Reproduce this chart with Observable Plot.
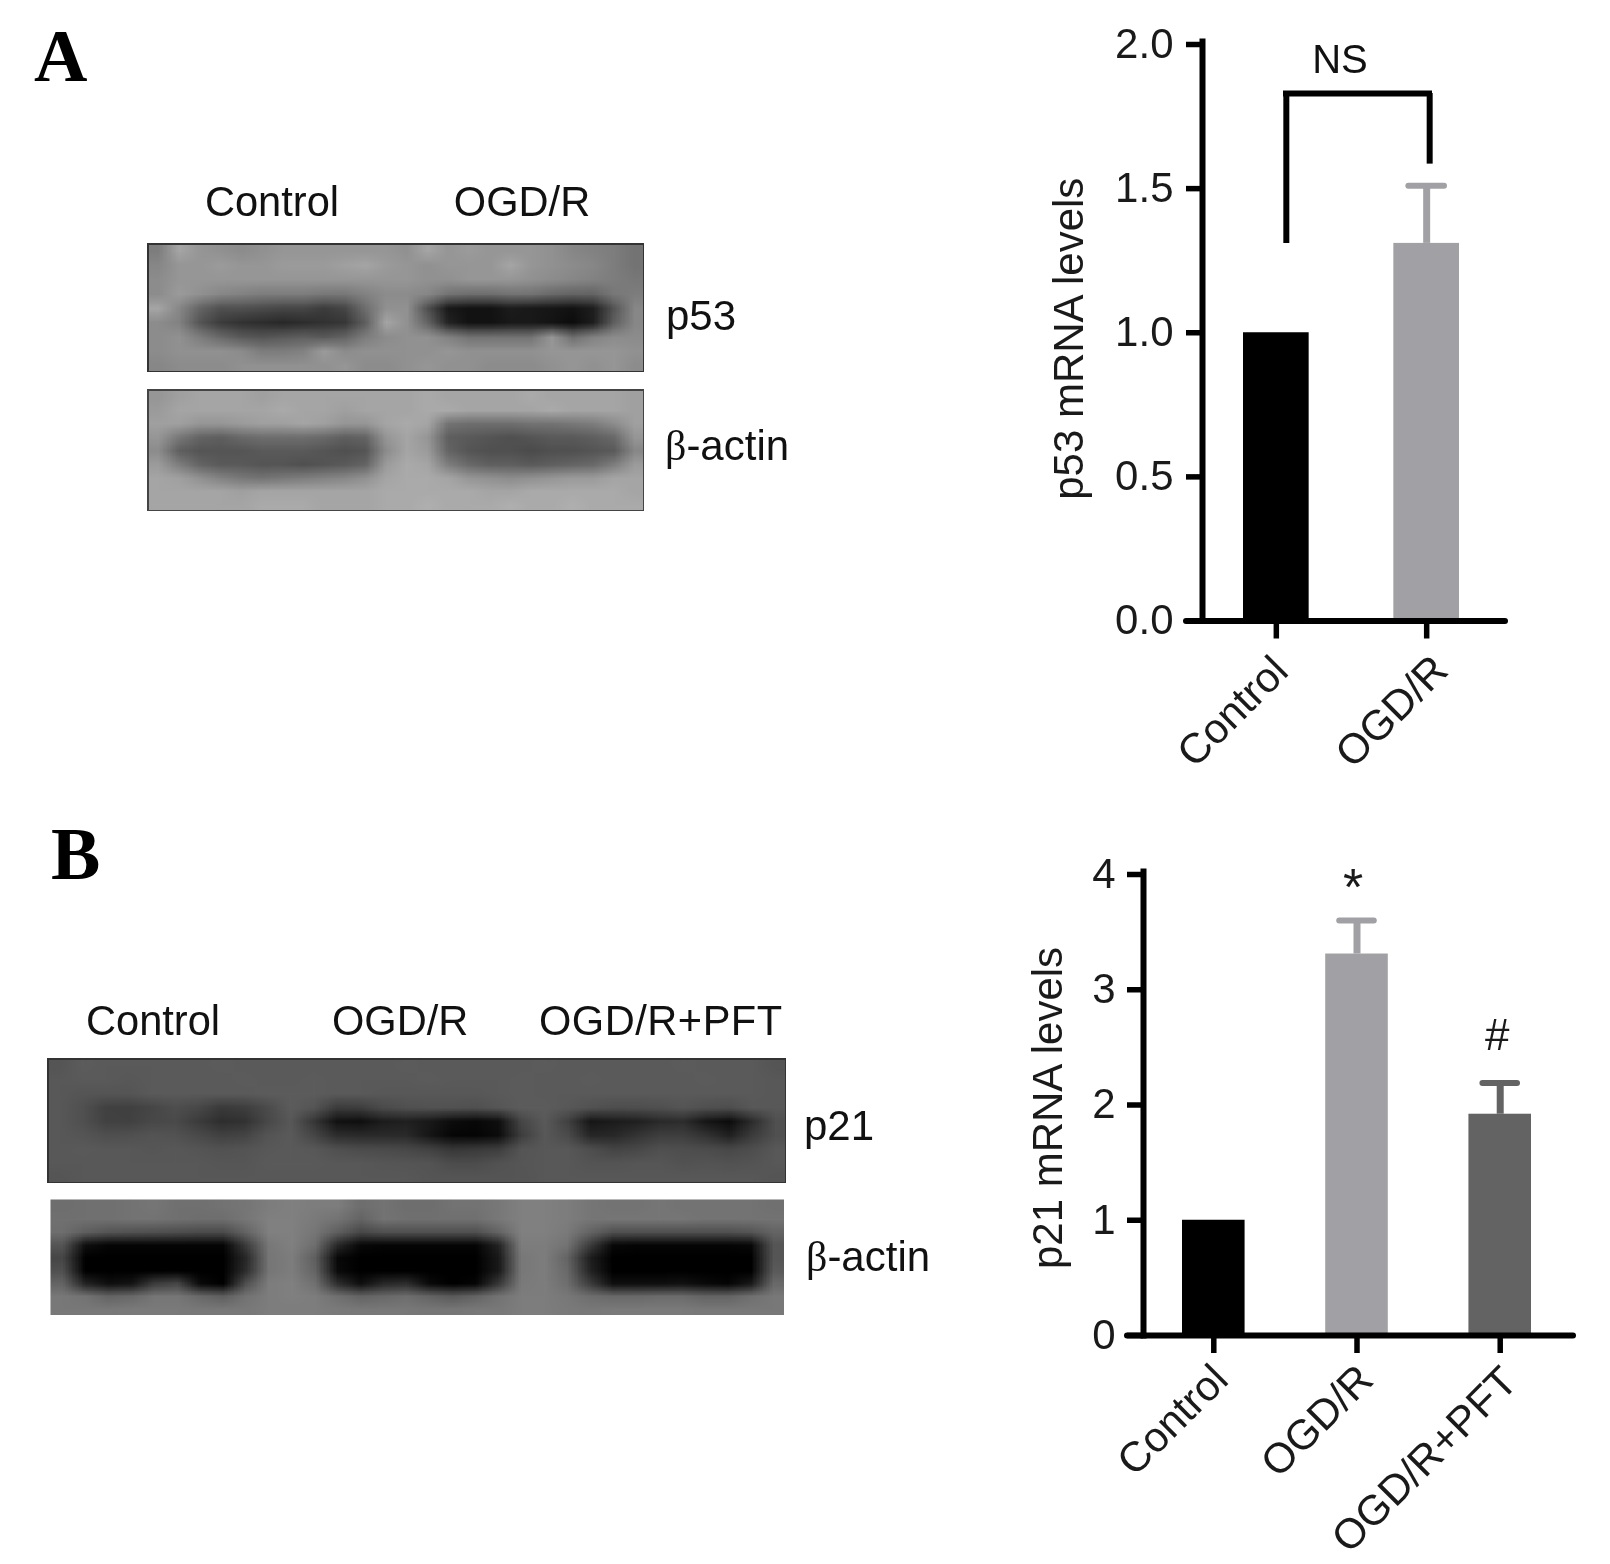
<!DOCTYPE html>
<html><head><meta charset="utf-8">
<script src="https://cdn.jsdelivr.net/npm/d3@7"></script>
<script src="https://cdn.jsdelivr.net/npm/@observablehq/plot@0.6"></script>
<style>
html,body{margin:0;padding:0;background:#fff}
#page{position:relative;width:1610px;height:1564px;overflow:hidden;background:#fff;font-family:"Liberation Sans",Arial,sans-serif;color:#111;filter:blur(0.6px)}
#page>svg,#page>figure{position:absolute;margin:0;background:transparent}
.lbl{position:absolute;white-space:nowrap;line-height:0}
.letter{font-family:"Liberation Serif",serif;font-weight:bold;color:#000}
.sym{font-family:"Liberation Serif",serif}
</style></head><body><div id="page"></div>
<script>
// ---- Panel A bar chart
const categoriesA = ["Control", "OGD/R"];
const meansA = [1.0, 1.31];
const errorTopsA = [null, 1.51];
const ticksA = [0, 0.5, 1.0, 1.5, 2.0];
const yLabelA = "p53 mRNA levels";
// ---- Panel B bar chart
const categoriesB = ["Control", "OGD/R", "OGD/R+PFT"];
const meansB = [1.0, 3.31, 1.92];
const errorTopsB = [null, 3.6, 2.19];
const ticksB = [0, 1, 2, 3, 4];
const yLabelB = "p21 mRNA levels";
// ---- Blot gray levels (0 black .. 255 white)
const blotP53 = [
125,165,150,145,140,145,150,150,150,150,150,150,145,165,150,155,150,150,150,145,135,130,125,115,
135,150,150,155,150,150,155,155,155,160,165,155,150,145,150,150,150,165,150,145,140,135,125,115,
140,150,150,150,150,150,150,150,150,150,150,150,150,145,145,150,150,150,145,140,135,130,125,120,
140,155,145,135,130,125,125,125,120,120,130,140,140,135,115,110,110,115,115,105,100,100,120,125,
165,135,100,80,80,75,70,70,60,70,110,145,145,80,25,18,18,28,25,22,18,30,85,135,
140,130,85,60,50,45,40,45,50,55,95,165,145,100,35,18,18,25,25,20,12,30,95,135,
140,145,125,105,90,85,90,95,90,100,125,140,145,145,130,115,115,115,115,150,110,130,140,140,
140,145,145,145,140,125,125,130,155,140,145,145,145,145,150,145,145,145,145,150,150,150,150,145,
135,140,140,140,145,145,145,145,145,150,140,140,145,150,145,145,140,140,140,145,150,145,150,140];
const blotActinA = [
150,160,165,165,165,160,165,165,165,165,165,165,165,170,165,165,165,165,170,165,165,165,165,160,
155,165,165,165,165,165,170,165,165,160,165,165,165,170,170,165,165,165,165,170,165,165,165,160,
160,160,150,150,155,160,160,165,160,150,150,165,170,165,115,110,110,110,115,115,120,125,140,160,
150,120,100,95,105,110,110,110,105,95,100,150,165,150,95,90,85,80,85,90,90,95,105,150,
140,95,85,85,85,90,90,90,85,80,85,140,165,155,100,85,80,80,75,80,80,85,90,135,
155,125,100,90,90,85,85,80,85,90,100,155,170,165,125,105,95,95,90,95,100,105,125,155,
165,160,145,130,120,115,120,125,130,135,145,165,170,170,165,150,145,140,145,150,155,155,165,165,
165,165,165,165,160,165,165,165,165,165,165,170,170,170,170,170,165,165,170,170,170,170,170,165,
165,165,165,165,165,170,170,170,165,165,165,170,170,175,170,170,170,175,170,170,175,170,170,170];
const blotP21 = [
85,92,90,90,90,90,90,92,90,90,90,90,90,90,90,92,90,90,90,90,90,92,90,90,90,90,90,92,90,90,90,85,
88,90,90,88,90,90,90,90,92,90,90,92,90,90,90,90,92,90,90,90,92,90,90,92,90,90,90,90,92,90,90,88,
88,85,85,85,90,90,90,90,90,92,92,92,90,90,88,88,88,88,88,90,92,90,90,90,90,90,90,90,90,90,90,88,
88,80,65,64,70,78,72,58,62,75,92,85,60,62,75,80,82,82,80,86,92,92,88,82,78,78,80,85,80,78,88,88,
88,80,66,65,72,74,60,46,50,72,88,55,18,15,28,32,25,12,8,15,70,90,65,22,28,32,42,45,22,12,45,80,
88,85,79,80,84,82,74,65,68,84,90,70,45,42,42,42,22,6,5,12,62,88,75,38,40,52,62,62,50,32,60,80,
88,90,88,88,86,88,85,82,84,88,90,88,80,76,75,72,66,55,58,62,85,88,88,78,68,72,80,78,76,72,78,88,
88,88,88,88,88,88,88,86,86,90,90,90,88,88,86,85,84,76,76,82,86,88,88,84,84,86,86,82,84,82,84,88,
85,88,88,88,88,88,88,88,88,88,88,88,88,88,88,88,85,85,85,85,85,88,88,88,88,88,88,88,88,88,88,85];
const blotActinB = [
110,112,112,115,118,112,112,115,118,125,128,125,125,110,115,110,110,115,115,120,128,128,125,118,115,115,118,115,115,115,115,112,
112,112,112,115,115,112,110,110,118,128,128,122,115,100,115,112,112,112,112,120,128,128,125,118,118,118,118,118,115,115,115,115,
110,95,85,82,80,78,75,75,100,128,128,118,95,72,80,80,80,80,80,100,128,128,122,100,80,80,80,80,80,80,85,100,
85,15,5,5,5,5,5,5,60,120,128,110,40,8,5,5,5,5,5,35,125,125,115,60,8,5,5,5,5,5,8,85,
70,0,0,0,0,0,0,0,40,118,125,95,8,0,0,0,0,0,0,25,120,125,100,30,0,0,0,0,0,0,0,85,
80,0,0,0,0,0,0,0,45,118,125,100,10,0,0,0,0,0,0,25,120,125,105,35,0,0,0,0,0,0,0,90,
100,35,15,20,60,70,10,0,80,125,128,112,45,15,40,45,10,0,5,55,122,125,110,60,15,15,15,18,10,5,25,105,
120,115,100,105,118,118,105,95,115,125,128,125,112,100,105,110,100,90,100,115,125,125,120,110,105,105,108,108,100,100,112,120,
120,120,120,122,122,122,120,120,120,125,125,125,122,120,120,120,118,118,120,120,125,125,122,120,122,122,122,122,120,120,120,120];

const page = document.getElementById("page");
const FONT = '"Liberation Sans", Arial, sans-serif';
const place = (el, left, top) => { el.style.left = left + "px"; el.style.top = top + "px"; page.appendChild(el); };

function label(html, x, baseline, size, anchor = "start", cls = "") {
  const d = document.createElement("div");
  d.className = "lbl " + cls;
  d.innerHTML = html;
  d.style.fontSize = size + "px";
  d.style.left = x + "px";
  d.style.top = (baseline - size * 0.35) + "px";
  if (anchor === "middle") d.style.transform = "translateX(-50%)";
  page.appendChild(d);
}

function blot(values, cols, left, top, right, bottom, border) {
  const rows = values.length / cols;
  const marks = [Plot.raster(values, {width: cols, height: rows, x1: 0, x2: cols, y1: 0, y2: rows, fill: d => d})];
  if (border) marks.push(Plot.frame({stroke: border, strokeWidth: 3}));
  const svg = Plot.plot({
    width: right - left, height: bottom - top, margin: 0,
    x: {domain: [0, cols], axis: null},
    y: {domain: [0, rows], axis: null, reverse: true},
    color: {type: "linear", domain: [0, 255], range: ["#000", "#fff"]},
    marks
  });
  place(svg, left, top);
}

blot(blotP53, 24, 147, 243, 644, 372, "#333");
blot(blotActinA, 24, 147, 389, 644, 511, "#444");
blot(blotP21, 32, 47, 1058, 786, 1183, "#333");
blot(blotActinB, 32, 50, 1199, 784, 1315, null);

function barChart(o) {
  const rows = o.cats.map((c, i) => ({c, v: o.means[i], e: o.errs[i]}));
  const errs = rows.filter(d => d.e != null);
  const svg = Plot.plot({
    width: o.w, height: o.h,
    marginLeft: o.ml, marginRight: o.mr, marginTop: o.mt, marginBottom: o.mb,
    style: {background: "transparent", fontFamily: FONT, color: "#111"},
    x: {type: "band", domain: o.cats, range: o.range, paddingInner: o.pi, paddingOuter: 0, round: false, label: null},
    y: {domain: o.domain, label: null},
    color: {domain: o.cats, range: o.colors},
    marks: [
      Plot.barY(rows, {x: "c", y: "v", fill: "c"}),
      Plot.ruleX(errs, {x: "c", y1: "v", y2: "e", stroke: "c", strokeWidth: 7}),
      Plot.tickY(errs, {x: "c", y: "e", stroke: "c", strokeWidth: 6, strokeLinecap: "round", insetLeft: o.capInset, insetRight: o.capInset}),
      Plot.frame({anchor: "left", stroke: "#000", strokeWidth: 6, insetTop: -3}),
      Plot.ruleY([o.domain[0]], {stroke: "#000", strokeWidth: 6, insetLeft: -o.tick, strokeLinecap: "round"}),
      Plot.axisY({ticks: o.ticks, tickFormat: o.fmt, tickSize: o.tick, tickPadding: o.pad, fontSize: 42, strokeWidth: 5.5, stroke: "#000", fill: "#1a1a1a", label: null}),
      Plot.text([o.yLabel], {frameAnchor: "left", textAnchor: "middle", rotate: -90, text: d => d, fontSize: 42, fill: "#1a1a1a", dx: o.labelDx, dy: o.labelDy}),
      Plot.axisX({tickSize: 18, strokeWidth: 5.5, stroke: "#000", tickFormat: () => "", label: null}),
      ...o.cats.map((c, i) => Plot.text([c], {x: d => d, y: () => o.domain[0], text: d => d, rotate: -45, textAnchor: "end", fontSize: 42, fill: "#1a1a1a", dx: o.xdx[i], dy: o.xdy[i]})),
      ...o.extra
    ]
  });
  place(svg, o.left, o.top);
}

barChart({
  cats: categoriesA, means: meansA, errs: errorTopsA,
  left: 1000, top: 0, w: 560, h: 790, ml: 202, mr: 55, mt: 44, mb: 169.5,
  range: [243, 459], pi: 0.5633, domain: [0, 2], ticks: ticksA, fmt: d3.format(".1f"),
  colors: ["#000000", "#a1a1a5"], capInset: 15, tick: 16, pad: 13,
  yLabel: yLabelA, labelDx: -133, labelDy: 6, xdx: [4.5, 14], xdy: [43, 42],
  extra: [
    Plot.ruleX([categoriesA[0]], {x: d => d, y1: 1.31, y2: 1.83, stroke: "#000", strokeWidth: 6, dx: 10}),
    Plot.ruleX([categoriesA[1]], {x: d => d, y1: 1.585, y2: 1.83, stroke: "#000", strokeWidth: 6, dx: 3}),
    Plot.ruleY([1.83], {x1: () => categoriesA[0], x2: () => categoriesA[1], stroke: "#000", strokeWidth: 6, insetLeft: 40, insetRight: 27})
  ]
});

barChart({
  cats: categoriesB, means: meansB, errs: errorTopsB,
  left: 950, top: 830, w: 650, h: 734, ml: 193, mr: 27, mt: 44, mb: 229,
  range: [232, 581], pi: 0.563, domain: [0, 4], ticks: ticksB, fmt: d3.format("d"),
  colors: ["#000000", "#a1a1a5", "#636363"], capInset: 14, tick: 16, pad: 12,
  yLabel: yLabelB, labelDx: -95, labelDy: 3, xdx: [7, 9, 10], xdy: [37, 37, 39],
  extra: [
    Plot.text([categoriesB[1]], {x: d => d, y: () => 3.88, text: () => "*", fontSize: 52, fill: "#1a1a1a", dx: -4}),
    Plot.text([categoriesB[2]], {x: d => d, y: () => 2.6, text: () => "#", fontSize: 44, fill: "#1a1a1a", dx: -3})
  ]
});

// text labels
label("A", 34, 82, 74, "start", "letter");
label("B", 51, 880, 74, "start", "letter");
label("Control", 272, 217, 41.6, "middle");
label("OGD/R", 522, 217, 41.6, "middle");
label("p53", 666, 331, 42);
label('<span class="sym">β</span>-actin', 665, 461, 42);
label("Control", 86, 1036, 41.6);
label("OGD/R", 332, 1036, 41.6);
label('<span style="letter-spacing:.5px">OGD/R+PFT</span>', 539, 1036, 41.6);
label("p21", 804, 1141, 42);
label('<span class="sym">β</span>-actin', 806, 1272, 42);
label("NS", 1340, 73, 40, "middle");
</script></body></html>
